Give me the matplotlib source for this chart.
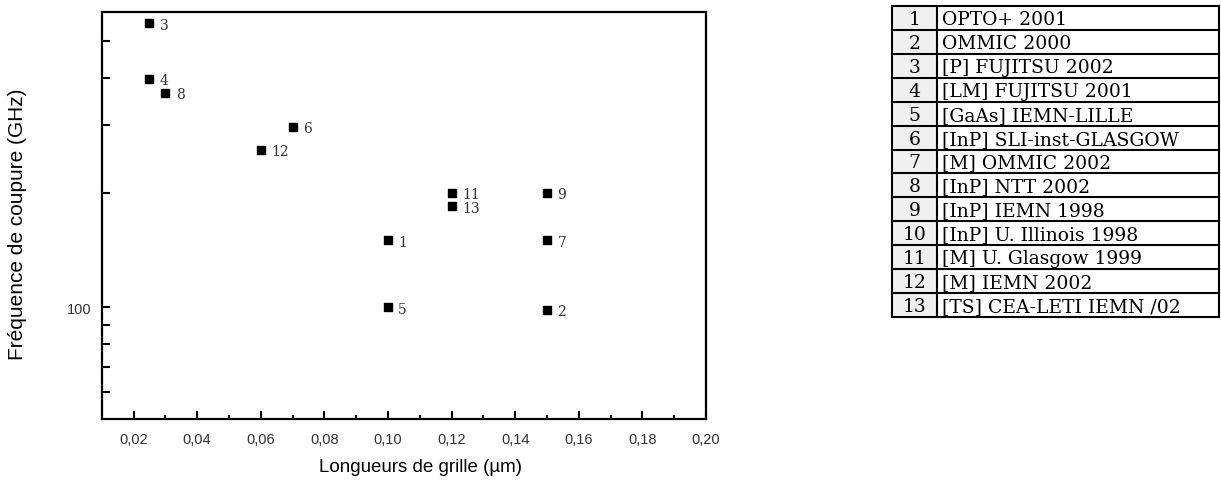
import matplotlib
matplotlib.use('Agg')
import matplotlib.pyplot as plt
from matplotlib.ticker import FixedLocator, NullFormatter, FuncFormatter
from matplotlib.patches import Rectangle

# DATA
point_ids = [1, 2, 3, 4, 5, 6, 7, 8, 9, 11, 12, 13]
gate_length = [0.10, 0.15, 0.025, 0.025, 0.10, 0.07, 0.15, 0.03, 0.15, 0.12, 0.06, 0.12]
cutoff_freq = [150, 98.5, 556, 397, 100, 298, 150, 365, 200, 200, 259, 184]

table_ids = ['1', '2', '3', '4', '5', '6', '7', '8', '9', '10', '11', '12', '13']
table_names = ['OPTO+ 2001', 'OMMIC 2000', '[P] FUJITSU 2002', '[LM] FUJITSU 2001',
               '[GaAs] IEMN-LILLE', '[InP] SLI-inst-GLASGOW', '[M] OMMIC 2002',
               '[InP] NTT 2002', '[InP] IEMN 1998', '[InP] U. Illinois 1998',
               '[M] U. Glasgow 1999', '[M] IEMN 2002', '[TS] CEA-LETI IEMN /02']

x_ticks = [0.02, 0.04, 0.06, 0.08, 0.10, 0.12, 0.14, 0.16, 0.18, 0.20]
x_minor = [0.03, 0.05, 0.07, 0.09, 0.11, 0.13, 0.15, 0.17, 0.19]
y_minor = [60, 70, 80, 90, 200, 300, 400, 500]

W, H = 1221, 481
fig = plt.figure(figsize=(W / 100, H / 100), dpi=100)

# SCATTER
ax = fig.add_axes([101.7 / W, 1 - 420 / H, (706 - 101.7) / W, (420 - 13) / H])
ax.scatter(gate_length, cutoff_freq, marker='s', s=30, color='black', zorder=3)
for pid, gx, fy in zip(point_ids, gate_length, cutoff_freq):
    ax.annotate(str(pid), (gx, fy), xytext=(7.5, -1), textcoords='offset points',
                va='center', ha='left', fontsize=10, family='DejaVu Serif',
                fontweight='light', color='#333333')

ax.set_yscale('log')
ax.set_xlim(0.01, 0.20)
ax.set_ylim(51, 595)

ax.xaxis.set_major_locator(FixedLocator(x_ticks))
ax.xaxis.set_minor_locator(FixedLocator(x_minor))
ax.xaxis.set_major_formatter(FuncFormatter(lambda v, p: f'{v:.2f}'.replace('.', ',')))
ax.yaxis.set_major_locator(FixedLocator([100]))
ax.yaxis.set_minor_locator(FixedLocator(y_minor))
ax.yaxis.set_major_formatter(FuncFormatter(lambda v, p: f'{v:.0f}'))
ax.yaxis.set_minor_formatter(NullFormatter())

ax.tick_params(axis='both', which='both', direction='in', width=1.5, colors='black',
               labelcolor='#333333', labelsize=10.5)
ax.tick_params(axis='x', which='major', length=6, pad=9)
ax.tick_params(axis='x', which='minor', length=3)
ax.tick_params(axis='y', which='both', length=6, pad=7)
for lab in ax.get_xticklabels() + ax.get_yticklabels():
    lab.set_family('Liberation Sans')
for sp in ax.spines.values():
    sp.set_linewidth(1.6)

ax.set_xlabel('Longueurs de grille (µm)', fontsize=13.5, family='Liberation Sans', labelpad=10)
ax.xaxis.set_label_coords(0.527, -0.095)
ax.set_ylabel('Fréquence de coupure (GHz)', fontsize=15, family='Liberation Sans')
ax.yaxis.set_label_coords(-0.124, 0.48)

# TABLE
tx0, tx1, ty0, ty1 = 892, 1219, 7, 318
tab = fig.add_axes([tx0 / W, 1 - ty1 / H, (tx1 - tx0) / W, (ty1 - ty0) / H])
tw, th = tx1 - tx0, ty1 - ty0
tab.set_xlim(0, tw)
tab.set_ylim(th, 0)
tab.axis('off')
rh = th / len(table_ids)
col = 45
tab.add_patch(Rectangle((0, 0), col, th, facecolor='#f0f0f0', edgecolor='none'))
for i, (tid, name) in enumerate(zip(table_ids, table_names)):
    yc = (i + 0.5) * rh
    tab.text(col / 2, yc + 1, tid, ha='center', va='center', fontsize=13.5,
             family='DejaVu Serif', color='black')
    tab.text(col + 5, yc + 1, name, ha='left', va='center', fontsize=13.5,
             family='DejaVu Serif', color='black')
for i in range(len(table_ids) + 1):
    tab.plot([0, tw], [i * rh, i * rh], color='black', lw=1.5, clip_on=False)
for xv in [0, col, tw]:
    tab.plot([xv, xv], [0, th], color='black', lw=1.5, clip_on=False)

fig.savefig('out.png', dpi=100)
